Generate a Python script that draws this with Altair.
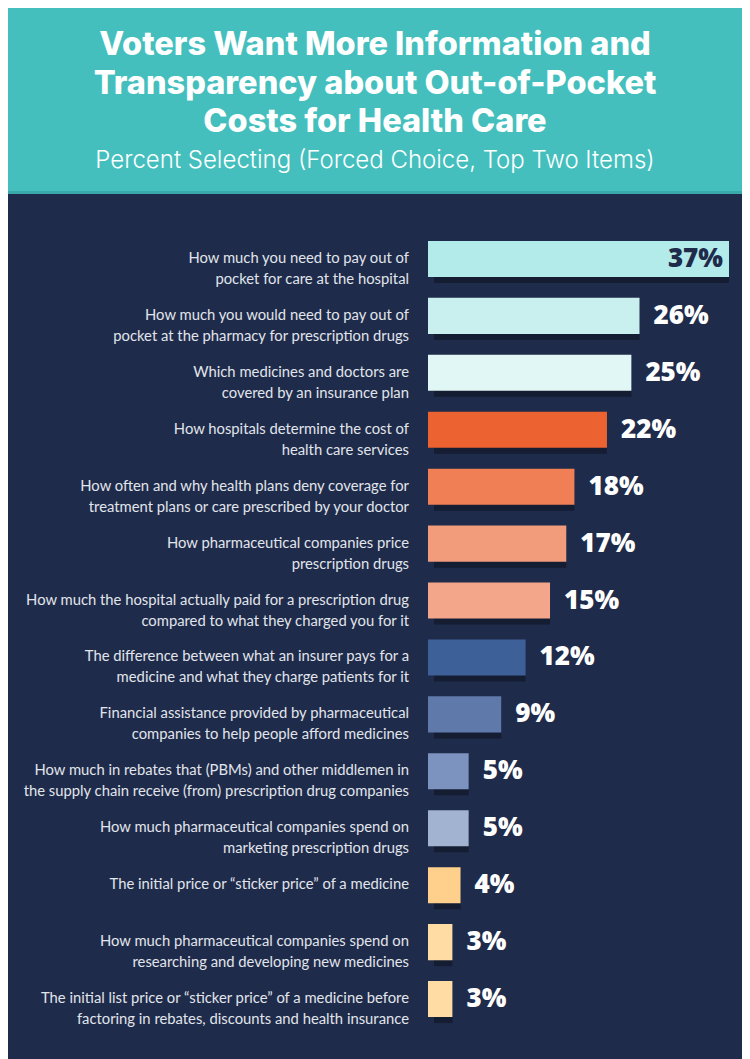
import altair as alt
import pandas as pd

line1 = [
    "How much you need to pay out of",
    "How much you would need to pay out of",
    "Which medicines and doctors are",
    "How hospitals determine the cost of",
    "How often and why health plans deny coverage for",
    "How pharmaceutical companies price",
    "How much the hospital actually paid for a prescription drug",
    "The difference between what an insurer pays for a",
    "Financial assistance provided by pharmaceutical",
    "How much in rebates that (PBMs) and other middlemen in",
    "How much pharmaceutical companies spend on",
    "The initial price or \u201csticker price\u201d of a medicine",
    "How much pharmaceutical companies spend on",
    "The initial list price or \u201csticker price\u201d of a medicine before",
]
line2 = [
    "pocket for care at the hospital",
    "pocket at the pharmacy for prescription drugs",
    "covered by an insurance plan",
    "health care services",
    "treatment plans or care prescribed by your doctor",
    "prescription drugs",
    "compared to what they charged you for it",
    "medicine and what they charge patients for it",
    "companies to help people afford medicines",
    "the supply chain receive (from) prescription drug companies",
    "marketing prescription drugs",
    "",
    "researching and developing new medicines",
    "factoring in rebates, discounts and health insurance",
]
values = [37, 26, 25, 22, 18, 17, 15, 12, 9, 5, 5, 4, 3, 3]
bar_colors = [
    "#b2ebe9", "#c9f0ef", "#e0f7f6",
    "#ec6230", "#f07f56", "#f29c7c", "#f4a68a",
    "#3e6098", "#5f7aaa", "#7c93bf", "#a2b2d1",
    "#ffd08c", "#ffdca3", "#ffdca3",
]

title_lines = [
    "Voters Want More Information and",
    "Transparency about Out-of-Pocket",
    "Costs for Health Care",
]
subtitle = "Percent Selecting (Forced Choice, Top Two Items)"

labels = [a + ("\n" + b if b else "") for a, b in zip(line1, line2)]
df = pd.DataFrame({
    "label": labels,
    "value": values,
    "color": bar_colors,
    "pct": [f"{v}%" for v in values],
})

W, H = 734, 1051
NAVY = "#1f2b4a"

xscale = alt.Scale(domain=[0, 37], range=[420, 721])
yscale = alt.Scale(domain=labels, range=[222.5, 1019.5],
                   paddingInner=0.367, paddingOuter=0.1835)

base = alt.Chart(df)
X = alt.X("value:Q", scale=xscale, axis=None)
Y = alt.Y("label:N", scale=yscale, axis=None, sort=labels)

header_df = pd.DataFrame({"t": ["\n".join(title_lines)], "s": [subtitle]})
header = alt.Chart(header_df).mark_rect(color="#44bfbe").encode(
    x=alt.value(0), x2=alt.value(W), y=alt.value(0), y2=alt.value(185)
)
header_edge = alt.Chart(header_df).mark_rect(color="#3aa9aa").encode(
    x=alt.value(0), x2=alt.value(W), y=alt.value(183), y2=alt.value(186)
)
title = alt.Chart(header_df).mark_text(
    font="Inter", fontWeight=800, fontSize=32.5, color="white",
    align="center", baseline="alphabetic", lineBreak="\n", lineHeight=38.5
).encode(x=alt.value(367), y=alt.value(47), text="t:N")
sub = alt.Chart(header_df).mark_text(
    font="Inter", fontWeight=300, fontSize=24, color="white",
    align="center", baseline="alphabetic"
).encode(x=alt.value(367), y=alt.value(160), text="s:N")

shadow = base.mark_bar(color="#151d33", xOffset=6, yOffset=6).encode(
    x=alt.X("zero:Q", scale=xscale, axis=None), x2="value:Q", y=Y
).transform_calculate(zero="0")
bars = base.mark_bar().encode(
    x=alt.X("zero:Q", scale=xscale, axis=None), x2="value:Q", y=Y,
    color=alt.Color("color:N", scale=None)
).transform_calculate(zero="0")

cat_text = base.mark_text(
    font="Lato", fontSize=14.8, color="#e1e5ec", align="right",
    baseline="middle", lineBreak="\n", lineHeight=21
).encode(x=alt.value(401), y=Y, text="label:N")

val_out = base.transform_filter("datum.value < 37").mark_text(
    font="Open Sans", fontWeight=800, fontSize=26, color="white",
    align="left", baseline="middle", dx=14
).encode(x=X, y=Y, text="pct:N")
val_in = base.transform_filter("datum.value >= 37").mark_text(
    font="Open Sans", fontWeight=800, fontSize=26, color=NAVY,
    align="right", baseline="middle", dx=-6
).encode(x=X, y=Y, text="pct:N")

chart = alt.layer(
    header, header_edge, title, sub, shadow, bars, cat_text, val_out, val_in
).properties(
    width=W, height=H, autosize=alt.AutoSizeParams(type="none"), padding=0,
    background=NAVY
).configure_view(stroke=None)

chart.save("out.html", embed_options={"renderer": "svg", "actions": False})
